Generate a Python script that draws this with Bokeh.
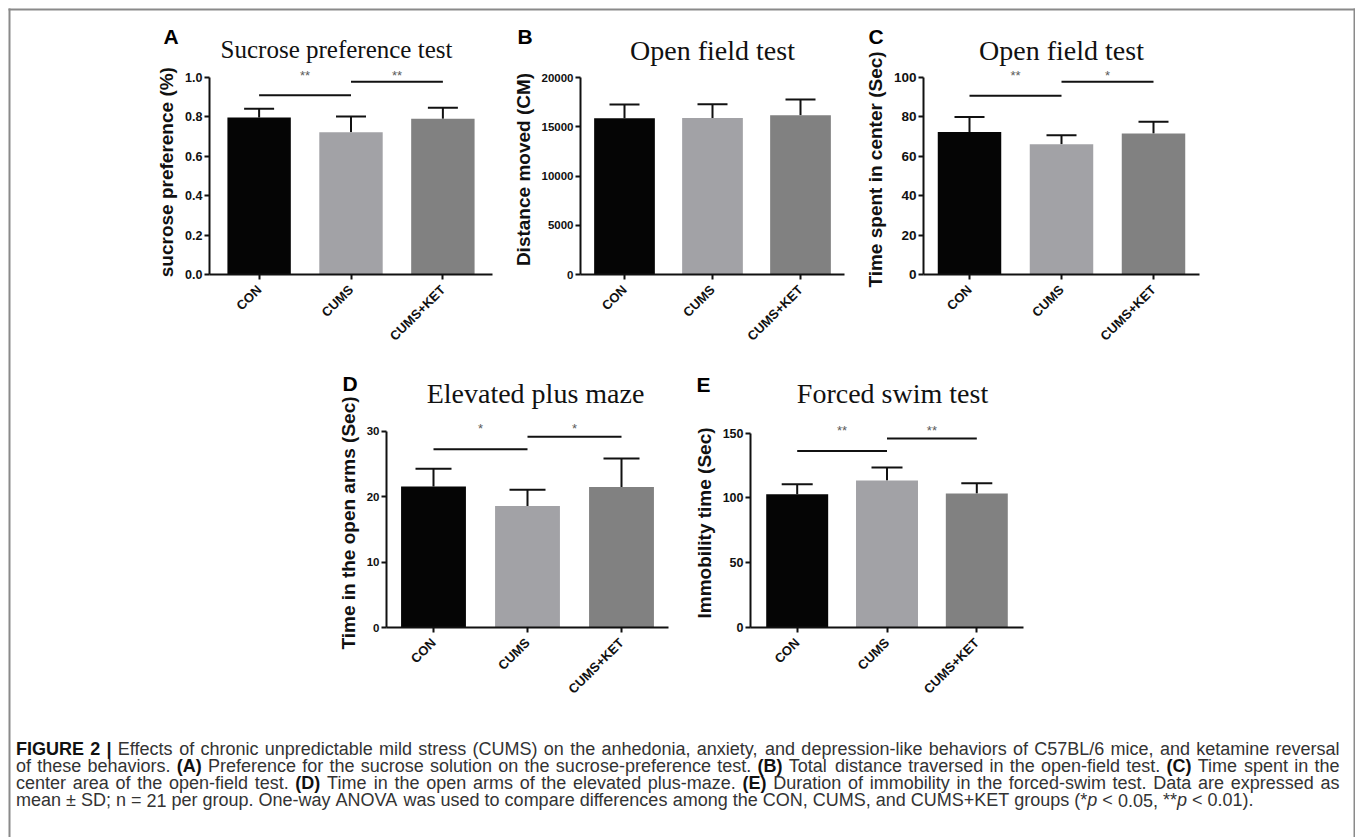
import math
import glob
import struct
from bokeh.plotting import figure
from bokeh.models import (FactorRange, Range1d, ColumnDataSource, Whisker, TeeHead, Label,
                          FixedTicker, PrintfTickFormatter, Spacer)
from bokeh.layouts import row, column
from bokeh.transform import dodge
from bokeh.embed import file_html
from bokeh.resources import INLINE

# ---------------- data ----------------
groups = ["CON", "CUMS", "CUMS+KET"]
bar_colors = ["#050505", "#a2a2a6", "#818181"]

sucrose_mean = [0.797, 0.722, 0.790]
sucrose_sd = [0.045, 0.080, 0.056]
distance_mean = [15860, 15900, 16170]
distance_sd = [1390, 1390, 1590]
center_mean = [72.3, 66.1, 71.6]
center_sd = [7.7, 4.6, 6.0]
openarm_mean = [21.56, 18.56, 21.46]
openarm_sd = [2.69, 2.49, 4.37]
immob_mean = [102.9, 113.4, 103.4]
immob_sd = [7.7, 10.0, 7.9]

sucrose_ticks = [0, 0.2, 0.4, 0.6, 0.8, 1.0]
distance_ticks = [0, 5000, 10000, 15000, 20000]
center_ticks = [0, 20, 40, 60, 80, 100]
openarm_ticks = [0, 10, 20, 30]
immob_ticks = [0, 50, 100, 150]

# significance brackets: start group, end group, bracket height, star height, mark
sucrose_sig_from = ["CON", "CUMS"]
sucrose_sig_to = ["CUMS", "CUMS+KET"]
sucrose_sig_y = [0.91, 0.978]
sucrose_star_y = [1.01, 1.01]
sucrose_sig_mark = ["**", "**"]

center_sig_from = ["CON", "CUMS"]
center_sig_to = ["CUMS", "CUMS+KET"]
center_sig_y = [90.7, 97.8]
center_star_y = [101.0, 101.0]
center_sig_mark = ["**", "*"]

openarm_sig_from = ["CON", "CUMS"]
openarm_sig_to = ["CUMS", "CUMS+KET"]
openarm_sig_y = [27.25, 29.14]
openarm_star_y = [30.4, 30.4]
openarm_sig_mark = ["*", "*"]

immob_sig_from = ["CON", "CUMS"]
immob_sig_to = ["CUMS", "CUMS+KET"]
immob_sig_y = [136.2, 145.9]
immob_star_y = [152.0, 152.0]
immob_sig_mark = ["**", "**"]

panel_letters = ["A", "B", "C", "D", "E"]
panel_titles = ["Sucrose preference test", "Open field test", "Open field test",
                "Elevated plus maze", "Forced swim test"]

caption_runs = [
    [("FIGURE 2 |", "bold"),
     (" Effects of chronic unpredictable mild stress (CUMS) on the anhedonia, anxiety, and depression-like behaviors of C57BL/6 mice, and ketamine reversal", "normal")],
    [("of these behaviors. ", "normal"), ("(A)", "bold"),
     (" Preference for the sucrose solution on the sucrose-preference test. ", "normal"), ("(B)", "bold"),
     (" Total distance traversed in the open-field test. ", "normal"), ("(C)", "bold"),
     (" Time spent in the", "normal")],
    [("center area of the open-field test. ", "normal"), ("(D)", "bold"),
     (" Time in the open arms of the elevated plus-maze. ", "normal"), ("(E)", "bold"),
     (" Duration of immobility in the forced-swim test. Data are expressed as", "normal")],
    [("mean \u00b1 SD; n = 21 per group. One-way ANOVA was used to compare differences among the CON, CUMS, and CUMS+KET groups (*", "normal"),
     ("p", "italic"), (" < 0.05, **", "normal"), ("p", "italic"), (" < 0.01).", "normal")],
]
caption_justify = [True, True, True, False]

INK = "#111111"
SANS = "Liberation Sans"
SERIF = "Liberation Serif"
CAP_COLORS = {"normal": "#333333", "italic": "#333333", "bold": "#111111"}

PAGE_W, PAGE_H = 1355, 837
BASE_FIX = 0.33   # alphabetic-baseline correction (fraction of font size)


# ---------------- text measuring (for the justified caption) ----------------
def load_advance(path):
    data = open(path, "rb").read()
    ntab = struct.unpack(">H", data[4:6])[0]
    tabs = {}
    for i in range(ntab):
        tag, _, off, ln = struct.unpack(">4sIII", data[12 + 16 * i: 28 + 16 * i])
        tabs[tag.decode("latin1")] = off
    upem = struct.unpack(">H", data[tabs["head"] + 18: tabs["head"] + 20])[0]
    nhm = struct.unpack(">H", data[tabs["hhea"] + 34: tabs["hhea"] + 36])[0]
    hm = tabs["hmtx"]
    adv = [struct.unpack(">H", data[hm + 4 * i: hm + 4 * i + 2])[0] for i in range(nhm)]
    cm = tabs["cmap"]
    n = struct.unpack(">H", data[cm + 2: cm + 4])[0]
    sub = None
    for i in range(n):
        pid, eid, off = struct.unpack(">HHI", data[cm + 4 + 8 * i: cm + 12 + 8 * i])
        if pid == 3 and eid == 1:
            sub = cm + off
    segx2 = struct.unpack(">H", data[sub + 6: sub + 8])[0]
    ns = segx2 // 2
    ends = struct.unpack(">%dH" % ns, data[sub + 14: sub + 14 + segx2])
    so = sub + 16 + segx2
    starts = struct.unpack(">%dH" % ns, data[so: so + segx2])
    do = so + segx2
    deltas = struct.unpack(">%dh" % ns, data[do: do + segx2])
    ro = do + segx2
    ros = struct.unpack(">%dH" % ns, data[ro: ro + segx2])

    def glyph(c):
        for i in range(ns):
            if ends[i] >= c:
                if starts[i] > c:
                    return 0
                if ros[i] == 0:
                    return (c + deltas[i]) & 0xFFFF
                addr = ro + 2 * i + ros[i] + 2 * (c - starts[i])
                g = struct.unpack(">H", data[addr: addr + 2])[0]
                return (g + deltas[i]) & 0xFFFF if g else 0
        return 0

    def width(s):
        return sum(adv[min(glyph(ord(ch)), nhm - 1)] for ch in s) / upem
    return width


def fallback_width(bold):
    def width(s):
        w = 0.0
        for ch in s:
            if ch == " ":
                w += 0.278
            elif ch in "il.,;:|'!()":
                w += 0.3
            elif ch.isupper():
                w += 0.70 if bold else 0.66
            else:
                w += 0.58 if bold else 0.54
        return w
    return width


measure = {}
for style, fname in (("normal", "LiberationSans-Regular.ttf"), ("bold", "LiberationSans-Bold.ttf"),
                     ("italic", "LiberationSans-Italic.ttf")):
    found = glob.glob("/usr/share/fonts/**/" + fname, recursive=True) + \
        glob.glob("/usr/local/share/fonts/**/" + fname, recursive=True)
    try:
        measure[style] = load_advance(found[0])
    except Exception:
        measure[style] = fallback_width(style == "bold")


def words_of(runs):
    words, new_word = [], True
    for txt, st in runs:
        for i, part in enumerate(txt.split(" ")):
            if i > 0:
                new_word = True
            if part == "":
                continue
            if new_word:
                words.append([(part, st)])
                new_word = False
            else:
                words[-1].append((part, st))
    return words


# ---------------- panels ----------------
def make_panel(means, sds, ticks, fmt, ylabel, sig, geo):
    W, H = geo["size"]
    bl, br, bt, bb = geo["border"]
    p = figure(width=W, height=H,
               x_range=FactorRange(*groups, range_padding=geo["pad"], range_padding_units="absolute"),
               y_range=Range1d(0, geo["ytop"]),
               output_backend="svg", toolbar_location=None, tools="",
               min_border_left=bl, min_border_right=br, min_border_top=bt, min_border_bottom=bb,
               outline_line_color=None, background_fill_color="white", border_fill_color="white")
    p.xgrid.visible = False
    p.ygrid.visible = False

    src = ColumnDataSource(dict(g=groups, mean=means,
                                upper=[m + s for m, s in zip(means, sds)],
                                color=bar_colors))
    p.vbar(x="g", top="mean", width=0.69, fill_color="color", line_color=None, source=src)
    p.add_layout(Whisker(source=src, base="g", upper="upper", lower="mean",
                         line_width=2, line_color=INK,
                         upper_head=TeeHead(size=geo["cap"], line_width=2, line_color=INK),
                         lower_head=None))

    if sig is not None:
        s_from, s_to, s_y, s_star, s_mark = sig
        ssrc = ColumnDataSource(dict(x0=s_from, x1=s_to, y=s_y, ys=s_star, mark=s_mark))
        p.segment(x0="x0", y0="y", x1="x1", y1="y", line_width=2, line_color=INK, source=ssrc)
        p.text(x=dodge("x0", 0.5, range=p.x_range), y="ys", text="mark", source=ssrc,
               text_align="center", text_baseline="middle",
               text_font={"value": SANS}, text_font_size="13px", text_color="#5a5a5a")

    ya = p.yaxis[0]
    ya.ticker = FixedTicker(ticks=ticks)
    ya.formatter = PrintfTickFormatter(format=fmt)
    ya.bounds = (0, ticks[-1])
    ya.axis_label = ylabel
    ya.axis_label_text_font = SANS
    ya.axis_label_text_font_style = "bold"
    ya.axis_label_text_font_size = "19px"
    ya.axis_label_text_color = INK
    ya.axis_label_standoff = 5
    ya.major_label_text_font = SANS
    ya.major_label_text_font_style = "bold"
    ya.major_label_text_font_size = "%gpx" % geo["tick_fs"]
    ya.major_label_text_color = INK
    ya.major_label_standoff = 2
    ya.major_tick_out = 5
    ya.major_tick_in = 0
    ya.minor_tick_out = 0
    ya.minor_tick_in = 0
    ya.axis_line_width = 2
    ya.axis_line_color = INK
    ya.major_tick_line_width = 2
    ya.major_tick_line_color = INK

    xa = p.xaxis[0]
    xa.major_label_orientation = math.pi / 4
    xa.major_label_text_font = SANS
    xa.major_label_text_font_style = "bold"
    xa.major_label_text_font_size = "13px"
    xa.major_label_text_color = INK
    xa.major_label_standoff = 8
    xa.major_tick_out = 5
    xa.major_tick_in = 0
    xa.axis_line_width = 2
    xa.axis_line_color = INK
    xa.major_tick_line_width = 2
    xa.major_tick_line_color = INK
    return p


geoA = dict(size=(500, 355), border=(209, 8, 64, 81), ytop=1.066, pad=0.04, cap=30, tick_fs=12.5)
geoB = dict(size=(360, 355), border=(80, 16, 64, 81), ytop=21320, pad=0.0, cap=30, tick_fs=11.5)
geoC = dict(size=(495, 355), border=(63, 156, 64, 81), ytop=106.6, pad=0.0, cap=30, tick_fs=13.5)
geoD = dict(size=(360, 360), border=(56, 22, 63, 88), ytop=31.94, pad=0.0, cap=36, tick_fs=11.5)
geoE = dict(size=(350, 360), border=(55, 17, 63, 87), ytop=161.3, pad=0.02, cap=31, tick_fs=12.5)

pA = make_panel(sucrose_mean, sucrose_sd, sucrose_ticks, "%.1f", "sucrose preference  (%)",
                (sucrose_sig_from, sucrose_sig_to, sucrose_sig_y, sucrose_star_y, sucrose_sig_mark), geoA)
pB = make_panel(distance_mean, distance_sd, distance_ticks, "%d", "Distance moved (CM)", None, geoB)
pC = make_panel(center_mean, center_sd, center_ticks, "%d", "Time spent in center (Sec)",
                (center_sig_from, center_sig_to, center_sig_y, center_star_y, center_sig_mark), geoC)
pD = make_panel(openarm_mean, openarm_sd, openarm_ticks, "%d", "Time in the open arms (Sec)",
                (openarm_sig_from, openarm_sig_to, openarm_sig_y, openarm_star_y, openarm_sig_mark), geoD)
pE = make_panel(immob_mean, immob_sd, immob_ticks, "%d", "Immobility time (Sec)",
                (immob_sig_from, immob_sig_to, immob_sig_y, immob_star_y, immob_sig_mark), geoE)

row1 = row(pA, pB, pC, spacing=0)
row2 = row(Spacer(width=330, height=360), pD, pE, spacing=0)
block = column(row1, row2, spacing=0)
BLOCK_H = 355 + 360

# ---------------- overlay: frame, titles, letters, caption ----------------
ov = figure(width=PAGE_W, height=PAGE_H, x_range=Range1d(0, PAGE_W), y_range=Range1d(PAGE_H, 0),
            output_backend="svg", toolbar_location=None, tools="",
            x_axis_location=None, y_axis_location=None, min_border=0,
            outline_line_color=None, background_fill_color=None, border_fill_color=None,
            margin=(-BLOCK_H, 0, 0, 0))
ov.grid.visible = False

# thin grey frame around the figure page
ov.segment(x0=[8, 9, 1354], y0=[9, 8, 8], x1=[1355, 9, 1354], y1=[9, PAGE_H, PAGE_H],
           line_width=2, line_color="#8a8a8a")

title_pos = [(336, 57, 25), (712, 59, 28), (1061, 59, 28), (535, 402, 28), (892, 402, 28)]
letter_pos = [(163, 43), (517, 43), (868, 43), (342, 390), (696, 391)]
for t, (tx, ty, fs) in zip(panel_titles, title_pos):
    ov.add_layout(Label(x=tx, y=ty - BASE_FIX * fs, text=t, text_align="center",
                        text_baseline="alphabetic", text_font=SERIF,
                        text_font_size="%gpx" % fs, text_color="#111111"))
for L, (lx, ly) in zip(panel_letters, letter_pos):
    ov.add_layout(Label(x=lx, y=ly - BASE_FIX * 21, text=L, text_align="left", text_baseline="alphabetic",
                        text_font=SANS, text_font_style="bold", text_font_size="21px",
                        text_color="#000000"))

# caption, justified like the journal layout
cap_left, cap_right = 15.5, 1339.0
cap_last_right = 1290.0
cap_base = [754, 771.5, 788.5, 805.5]
all_words = [words_of(r) for r in caption_runs]


def word_w(word):
    return sum(measure[st](txt) for txt, st in word)


last = all_words[-1]
unit_w = sum(word_w(w) for w in last) + measure["normal"](" ") * (len(last) - 1)
cap_fs = max(14.0, min(18.0, (cap_last_right - cap_left) / unit_w))

for words, just, base in zip(all_words, caption_justify, cap_base):
    widths = [word_w(w) * cap_fs for w in words]
    if just and len(words) > 1:
        gap = (cap_right - cap_left - sum(widths)) / (len(words) - 1)
    else:
        gap = measure["normal"](" ") * cap_fs
    x = cap_left
    for w, ww in zip(words, widths):
        px = x
        for txt, st in w:
            ov.add_layout(Label(x=px, y=base - BASE_FIX * cap_fs, text=txt, text_align="left",
                                text_baseline="alphabetic", text_font=SANS,
                                text_font_style=st, text_font_size="%.2fpx" % cap_fs,
                                text_color=CAP_COLORS[st]))
            px += measure[st](txt) * cap_fs
        x += ww + gap

root = column(block, ov, spacing=0)

open("out.html", "w").write(file_html(root, INLINE))
